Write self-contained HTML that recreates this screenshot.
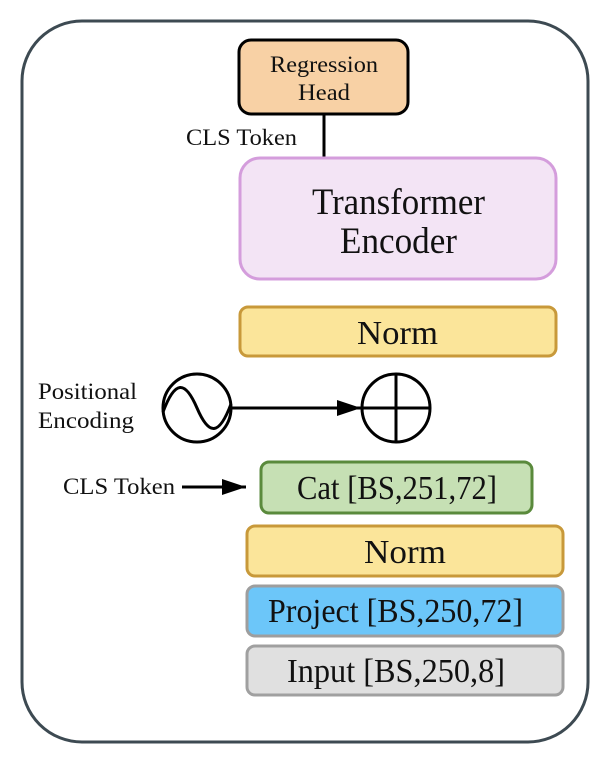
<!DOCTYPE html>
<html><head><meta charset="utf-8"><style>
html,body{margin:0;padding:0;background:#fff;}
svg{display:block;}
text{font-family:"Liberation Serif",serif;fill:#111;}
</style></head><body>
<svg width="610" height="772" viewBox="0 0 610 772" xmlns="http://www.w3.org/2000/svg">
<defs>
<marker id="ah2" viewBox="0 0 24 16" markerWidth="24" markerHeight="16" refX="24" refY="8" orient="auto" markerUnits="userSpaceOnUse"><path d="M0,0 L24,8 L0,16 z" fill="#000"/></marker></defs>
<rect x="22" y="21" width="566" height="721" rx="60" fill="#fff" stroke="#3d4a52" stroke-width="3"/>
<rect x="239" y="40" width="169" height="74" rx="12" fill="#f8d1a5" stroke="#000" stroke-width="3"/>
<text x="270" y="72" font-size="23" textLength="108" lengthAdjust="spacingAndGlyphs">Regression</text>
<text x="298" y="100" font-size="23" textLength="52" lengthAdjust="spacingAndGlyphs">Head</text>
<line x1="324" y1="114" x2="324" y2="158" stroke="#000" stroke-width="3"/>
<text x="186" y="145" font-size="23" textLength="111" lengthAdjust="spacingAndGlyphs">CLS Token</text>
<rect x="240" y="158" width="316" height="121" rx="20" fill="#f3e4f5" stroke="#d49ddc" stroke-width="3"/>
<text x="312" y="214" font-size="37" textLength="173" lengthAdjust="spacingAndGlyphs">Transformer</text>
<text x="340" y="253" font-size="37" textLength="117" lengthAdjust="spacingAndGlyphs">Encoder</text>
<rect x="240" y="307" width="316" height="49" rx="8" fill="#fbe59a" stroke="#c8993a" stroke-width="3"/>
<text x="357" y="344" font-size="34" textLength="81" lengthAdjust="spacingAndGlyphs">Norm</text>
<text x="38" y="399" font-size="23" textLength="99" lengthAdjust="spacingAndGlyphs">Positional</text>
<text x="38" y="428" font-size="23" textLength="96" lengthAdjust="spacingAndGlyphs">Encoding</text>
<circle cx="197" cy="408" r="34" fill="none" stroke="#000" stroke-width="3"/>
<path d="M163,412 C175,380 185,380 197,408 C209,436 219,436 231,404" fill="none" stroke="#000" stroke-width="3"/>
<line x1="231" y1="408" x2="361" y2="408" stroke="#000" stroke-width="3" marker-end="url(#ah2)"/>
<circle cx="396" cy="408" r="34" fill="none" stroke="#000" stroke-width="3"/>
<line x1="362" y1="408" x2="430" y2="408" stroke="#000" stroke-width="3"/>
<line x1="396" y1="374" x2="396" y2="442" stroke="#000" stroke-width="3"/>
<text x="63" y="494" font-size="23" textLength="112" lengthAdjust="spacingAndGlyphs">CLS Token</text>
<line x1="182" y1="487" x2="246" y2="487" stroke="#000" stroke-width="3" marker-end="url(#ah2)"/>
<rect x="261" y="462" width="271" height="51" rx="8" fill="#c6e0b4" stroke="#5a8a3c" stroke-width="3"/>
<text x="297" y="499" font-size="34" textLength="200" lengthAdjust="spacingAndGlyphs">Cat [BS,251,72]</text>
<rect x="247" y="526" width="316" height="50" rx="8" fill="#fbe59a" stroke="#c8993a" stroke-width="3"/>
<text x="364" y="563" font-size="34" textLength="82" lengthAdjust="spacingAndGlyphs">Norm</text>
<rect x="247" y="586" width="316" height="50" rx="8" fill="#6cc6f9" stroke="#9e9e9e" stroke-width="3"/>
<text x="268" y="622" font-size="34" textLength="255" lengthAdjust="spacingAndGlyphs">Project [BS,250,72]</text>
<rect x="247" y="646" width="316" height="49" rx="8" fill="#e0e0e0" stroke="#a0a0a0" stroke-width="3"/>
<text x="287" y="682" font-size="34" textLength="218" lengthAdjust="spacingAndGlyphs">Input [BS,250,8]</text>
</svg>
</body></html>
